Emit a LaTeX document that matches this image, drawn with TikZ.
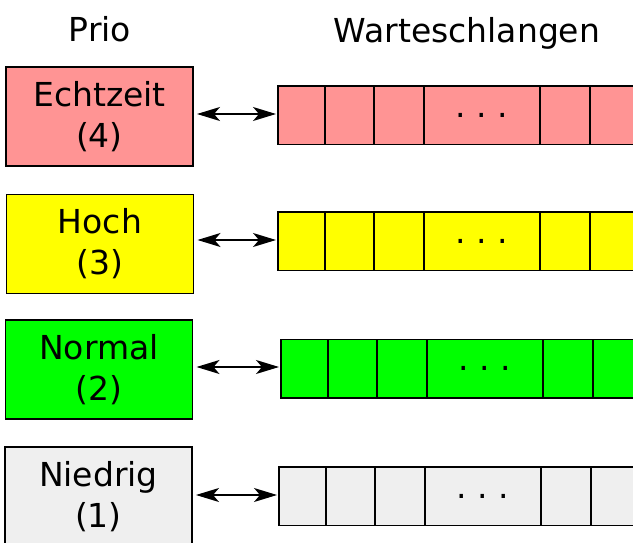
\documentclass[tikz,border=0pt]{standalone}
\usepackage{fontspec}
\setmainfont{DejaVu Sans}
\usetikzlibrary{arrows.meta}
\definecolor{rtcol}{RGB}{255,148,148}
\definecolor{hicol}{RGB}{255,255,0}
\definecolor{nocol}{RGB}{0,255,0}
\definecolor{locol}{RGB}{239,239,239}
\tikzset{
  prio/.style={draw, line width=1.5pt, minimum width=187pt, minimum height=99pt,
    align=center, inner sep=0pt, outer sep=0pt,
    font=\fontsize{33}{41}\selectfont},
  cell/.style={draw, line width=1.5pt, minimum height=58.5pt, inner sep=0pt, outer sep=0pt, anchor=west},
  hdr/.style={font=\fontsize{33}{40}\selectfont, anchor=base, inner sep=0pt},
  dots/.style={font=\fontsize{33}{40}\selectfont, inner sep=0pt},
  conn/.style={line width=1.3pt, shorten <=4pt, shorten >=2pt,
    arrows={Stealth[length=23pt,width=14pt,inset=6pt]-Stealth[length=23pt,width=14pt,inset=6pt]}}
}
\newcommand\mkqueue[4]{%
  \node[cell, fill=#4, minimum width=47pt] (#1a) at (#2,#3) {};
  \node[cell, fill=#4, minimum width=49pt] (#1b) at (#1a.east) {};
  \node[cell, fill=#4, minimum width=50pt] (#1c) at (#1b.east) {};
  \node[cell, fill=#4, minimum width=116pt] (#1d) at (#1c.east) {};
  \node[cell, fill=#4, minimum width=50pt] (#1e) at (#1d.east) {};
  \node[cell, fill=#4, minimum width=60pt] (#1f) at (#1e.east) {};
  \node[dots] (#1dots) at (#1d.center) {.\ .\ .};
}
\begin{document}
\begin{tikzpicture}[x=1pt, y=-1pt]
\clip (0,0) rectangle (633,543);
\fill[white] (0,0) rectangle (633,543);

\node[hdr] (h1) at (100,42) {Prio};
\node[hdr] (h2) at (467,43) {Warteschlangen};

\node[prio, fill=rtcol] (p4) at (99.5,116.5) {Echtzeit\\(4)};
\node[prio, fill=hicol] (p3) at (100,244) {Hoch\\(3)};
\node[prio, fill=nocol] (p2) at (99,369.5) {Normal\\(2)};
\node[prio, fill=locol] (p1) at (98.5,496.5) {Niedrig\\(1)};

\mkqueue{q4}{278}{115.5}{rtcol}
\mkqueue{q3}{278}{241}{hicol}
\mkqueue{q2}{281}{368.5}{nocol}
\mkqueue{q1}{279}{496}{locol}

\draw[conn] ([yshift=1.5pt]p4.east |- q4a.west) -- ([yshift=1.5pt]q4a.west);
\draw[conn] ([yshift=1pt]p3.east |- q3a.west) -- ([yshift=1pt]q3a.west);
\draw[conn] ([yshift=1.5pt]p2.east |- q2a.west) -- ([yshift=1.5pt]q2a.west);
\draw[conn] ([yshift=1pt]p1.east |- q1a.west) -- ([yshift=1pt]q1a.west);
\end{tikzpicture}
\end{document}
